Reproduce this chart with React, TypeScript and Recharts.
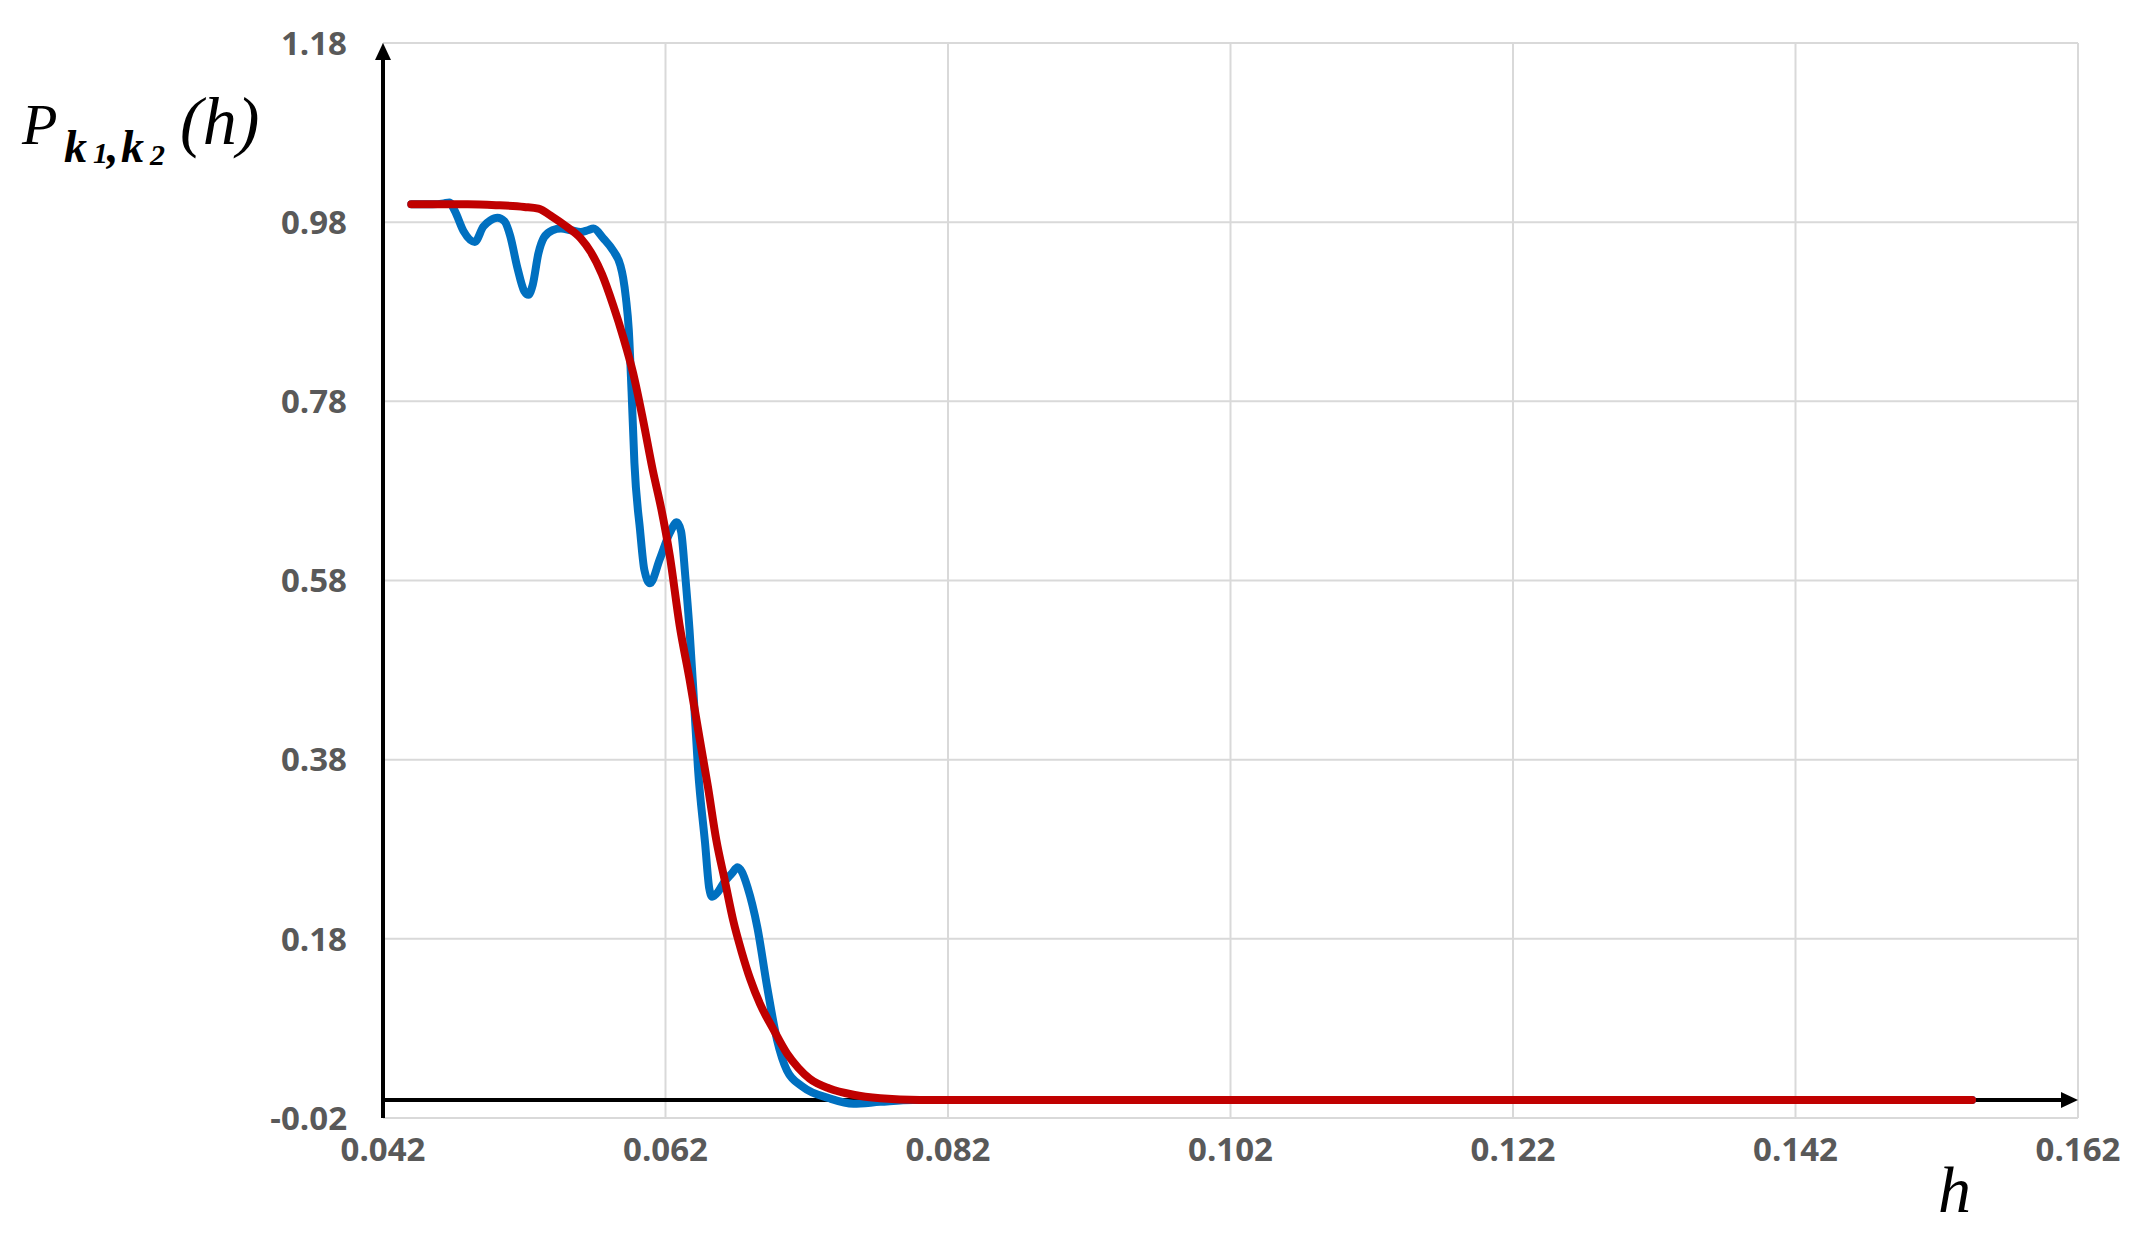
import React from "react";
import { LineChart, Line, XAxis, YAxis, CartesianGrid, ReferenceLine } from "recharts";

// x-axis ticks (h) and y-axis ticks (P)
const xTicks = [0.042, 0.062, 0.082, 0.102, 0.122, 0.142, 0.162];
const yTicks = [-0.02, 0.18, 0.38, 0.58, 0.78, 0.98, 1.18];

// Blue series (oscillating)
const hBlue = [
  0.044, 0.0455, 0.0463, 0.0467, 0.0471, 0.0477, 0.0485, 0.0491, 0.0496, 0.0501,
  0.0506, 0.051, 0.0515, 0.052, 0.0523, 0.0526, 0.053, 0.0534, 0.054, 0.0546,
  0.0553, 0.056, 0.0565, 0.0569, 0.0576, 0.0583, 0.0588, 0.059, 0.0592, 0.0594,
  0.0596, 0.0598, 0.0602, 0.0605, 0.0609, 0.0616, 0.0623, 0.0628, 0.0631, 0.0634,
  0.0637, 0.064, 0.0643, 0.0648, 0.0651, 0.0653, 0.0657, 0.0661, 0.0667, 0.0671,
  0.0674, 0.0678, 0.0685, 0.0692, 0.0699, 0.0706, 0.0717, 0.0736, 0.0753, 0.0772,
  0.0795, 0.1545,
];
const pBlue = [
  1.0, 1.0, 1.001, 1.002, 0.992, 0.97, 0.958, 0.975, 0.982, 0.985,
  0.981, 0.965, 0.93, 0.903, 0.899, 0.91, 0.945, 0.963, 0.971, 0.973,
  0.971, 0.969, 0.971, 0.973, 0.962, 0.948, 0.932, 0.918, 0.895, 0.86,
  0.79, 0.711, 0.636, 0.592, 0.577, 0.604, 0.633, 0.645, 0.635, 0.585,
  0.525, 0.45, 0.37, 0.287, 0.236, 0.227, 0.232, 0.242, 0.253, 0.26,
  0.255, 0.238, 0.193, 0.126, 0.067, 0.033, 0.015, 0.002, -0.004, -0.002,
  0.0, 0.0,
];

// Red series (smooth)
const hRed = [
  0.044, 0.046, 0.048, 0.05, 0.052, 0.053, 0.054, 0.055, 0.056, 0.0567,
  0.0575, 0.0583, 0.059, 0.0597, 0.0604, 0.0611, 0.0617, 0.0623, 0.063, 0.0637,
  0.0644, 0.065, 0.0656, 0.0662, 0.0668, 0.0674, 0.068, 0.0687, 0.0696, 0.0706,
  0.0714, 0.0722, 0.0736, 0.0753, 0.0772, 0.08, 0.1545,
];
const pRed = [
  1.0, 1.0, 1.0, 0.999, 0.997, 0.995, 0.986, 0.975, 0.962, 0.947,
  0.922, 0.887, 0.852, 0.812, 0.76, 0.703, 0.66, 0.608, 0.53, 0.47,
  0.405, 0.35, 0.29, 0.245, 0.2, 0.165, 0.135, 0.107, 0.08, 0.052,
  0.036, 0.024, 0.013, 0.006, 0.002, 0.0, 0.0,
];

const blueData = hBlue.map((h, i) => ({ h, p: pBlue[i] }));
const redData = hRed.map((h, i) => ({ h, p: pRed[i] }));

const W = 2135;
const H = 1239;

const YArrow = (props: any) => {
  const { x1, y1, y2 } = props;
  const top = Math.min(y1, y2);
  const bottom = Math.max(y1, y2);
  return (
    <g>
      <line x1={x1} x2={x1} y1={bottom} y2={top + 14} stroke="#000" strokeWidth={4} />
      <polygon points={`${x1 - 8},${top + 17} ${x1 + 8},${top + 17} ${x1},${top}`} fill="#000" />
    </g>
  );
};

const XArrow = (props: any) => {
  const { x1, x2, y1 } = props;
  const left = Math.min(x1, x2);
  const right = Math.max(x1, x2);
  return (
    <g>
      <line x1={left} x2={right - 14} y1={y1} y2={y1} stroke="#000" strokeWidth={4} />
      <polygon points={`${right - 17},${y1 - 8} ${right - 17},${y1 + 8} ${right},${y1}`} fill="#000" />
    </g>
  );
};

const tickStyle = { fontFamily: "Open Sans", fontWeight: 700, fontSize: 33, fill: "#595959" };
const serif = "'Liberation Serif', 'Times New Roman', serif";

export default function App() {
  return (
    <div style={{ position: "absolute", left: 0, top: 0, width: W, height: H, background: "#fff" }}>
      <LineChart width={W} height={H} margin={{ top: 43, left: 283, right: 57, bottom: 41 }}>
        <CartesianGrid stroke="#d9d9d9" strokeWidth={2} />
        <XAxis
          type="number"
          dataKey="h"
          domain={[0.042, 0.162]}
          ticks={xTicks}
          allowDataOverflow
          interval={0}
          axisLine={false}
          tickLine={false}
          tickSize={0}
          tickMargin={20}
          height={80}
          tick={tickStyle}
          tickFormatter={(v: number) => v.toFixed(3)}
        />
        <YAxis
          type="number"
          dataKey="p"
          domain={[-0.02, 1.18]}
          ticks={yTicks}
          allowDataOverflow
          interval={0}
          axisLine={false}
          tickLine={false}
          tickSize={0}
          tickMargin={36}
          width={100}
          tick={tickStyle}
          tickFormatter={(v: number) => v.toFixed(2)}
        />
        <ReferenceLine x={0.042} shape={YArrow} />
        <ReferenceLine y={0} shape={XArrow} />
        <Line
          data={blueData}
          dataKey="p"
          type="monotone"
          stroke="#0070C0"
          strokeWidth={8}
          strokeLinecap="round"
          strokeLinejoin="round"
          dot={false}
          activeDot={false}
          isAnimationActive={false}
        />
        <Line
          data={redData}
          dataKey="p"
          type="monotone"
          stroke="#C00000"
          strokeWidth={8}
          strokeLinecap="round"
          strokeLinejoin="round"
          dot={false}
          activeDot={false}
          isAnimationActive={false}
        />
      </LineChart>
      <svg
        width={W}
        height={H}
        style={{ position: "absolute", left: 0, top: 0, pointerEvents: "none" }}
      >
        <g style={{ fontFamily: serif }} fill="#000">
          <text x={22} y={144} fontStyle="italic" fontSize={58}>P</text>
          <text x={64} y={162} fontStyle="italic" fontWeight={700} fontSize={46}>k</text>
          <text x={93} y={163} fontStyle="italic" fontWeight={700} fontSize={30}>1</text>
          <text x={107} y={162} fontStyle="italic" fontWeight={700} fontSize={46}>,</text>
          <text x={121} y={162} fontStyle="italic" fontWeight={700} fontSize={46}>k</text>
          <text x={150} y={165} fontStyle="italic" fontWeight={700} fontSize={30}>2</text>
          <text x={180} y={144} fontStyle="italic" fontSize={68}>(h)</text>
          <text x={1938} y={1212} fontStyle="italic" fontSize={66}>h</text>
        </g>
      </svg>
    </div>
  );
}
